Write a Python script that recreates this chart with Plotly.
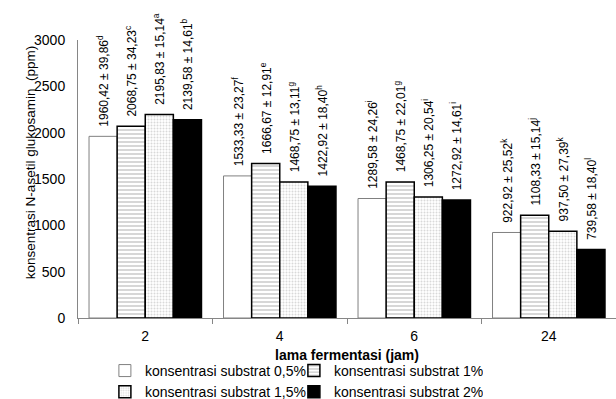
import plotly.graph_objects as go

categories = ["2", "4", "6", "24"]
series_names = [
    "konsentrasi substrat 0,5%",
    "konsentrasi substrat 1%",
    "konsentrasi substrat 1,5%",
    "konsentrasi substrat 2%",
]
values_05 = [1960.42, 1533.33, 1289.58, 922.92]
values_1 = [2068.75, 1666.67, 1468.75, 1108.33]
values_15 = [2195.83, 1468.75, 1306.25, 937.50]
values_2 = [2139.58, 1422.92, 1272.92, 739.58]
sd_05 = [39.86, 23.27, 24.26, 25.52]
sd_1 = [34.23, 12.91, 22.01, 15.14]
sd_15 = [15.14, 13.11, 20.54, 27.39]
sd_2 = [14.61, 18.40, 14.61, 18.40]
letters_05 = ["d", "f", "i", "k"]
letters_1 = ["c", "e", "g", "j"]
letters_15 = ["a", "g", "i", "k"]
letters_2 = ["b", "h", "i", "l"]

y_title = "konsentrasi N-asetil glukosamin  (ppm)"
x_title = "lama fermentasi (jam)"

FONT = "Liberation Sans, Arial, sans-serif"


def fmt(x):
    return f"{x:.2f}".replace(".", ",")


def labels(vals, sds, lets):
    return [
        "\u00a0\u00a0" + fmt(v) + " ± " + fmt(s) + "<sup>" + l + "</sup>"
        for v, s, l in zip(vals, sds, lets)
    ]


styles = [
    dict(color="white", line=dict(color="#808080", width=1)),
    dict(color="white", line=dict(color="black", width=1.5),
         pattern=dict(shape="-", fgcolor="#9a9a9a", bgcolor="white", size=4, solidity=0.4)),
    dict(color="white", line=dict(color="black", width=1.5),
         pattern=dict(shape=".", fgcolor="#b4b4b4", bgcolor="white", size=3, solidity=0.35)),
    dict(color="black", line=dict(color="black", width=1.5)),
]

series = [
    (values_05, sd_05, letters_05),
    (values_1, sd_1, letters_1),
    (values_15, sd_15, letters_15),
    (values_2, sd_2, letters_2),
]

fig = go.Figure()
for name, (vals, sds, lets), st in zip(series_names, series, styles):
    fig.add_trace(go.Bar(
        x=categories, y=vals, name=name, marker=st,
        text=labels(vals, sds, lets), textposition="outside", textangle=-90,
        textfont=dict(family=FONT, size=12, color="black"),
        constraintext="none", cliponaxis=False,
    ))

fig.update_layout(
    width=616, height=399,
    margin=dict(l=78, r=0, t=40, b=81, autoexpand=False),
    paper_bgcolor="white", plot_bgcolor="white",
    font=dict(family=FONT, size=14, color="black"),
    barmode="group", bargap=0.164, bargroupgap=0,
    xaxis=dict(
        type="category", showline=True, linecolor="#868686", linewidth=1,
        ticks="outside", tickson="boundaries", ticklen=5, tickcolor="#868686",
        showgrid=False, tickfont=dict(size=14), ticklabelstandoff=5, automargin=False,
        title=dict(text="<b>" + x_title + "</b>", font=dict(size=14), standoff=7),
    ),
    yaxis=dict(
        range=[0, 3000], dtick=500, showline=True, linecolor="#868686", linewidth=1,
        ticks="", showgrid=False, zeroline=False, tickfont=dict(size=14),
        ticklabelstandoff=9, automargin=False,
    ),
    annotations=[dict(
        text=y_title, textangle=-90, xref="paper", yref="paper",
        x=-0.0892, y=0.557, xanchor="center", yanchor="middle",
        showarrow=False, font=dict(size=13.5),
    )],
    legend=dict(
        orientation="h", x=0.05, xanchor="left", y=-0.133, yanchor="top",
        entrywidth=144, font=dict(size=14), itemwidth=30,
        tracegroupgap=0, bgcolor="rgba(0,0,0,0)",
    ),
)

fig.write_html(
    "out.html",
    config={"displayModeBar": False},
    post_script="document.body.style.margin='0';document.body.style.padding='0';",
)
